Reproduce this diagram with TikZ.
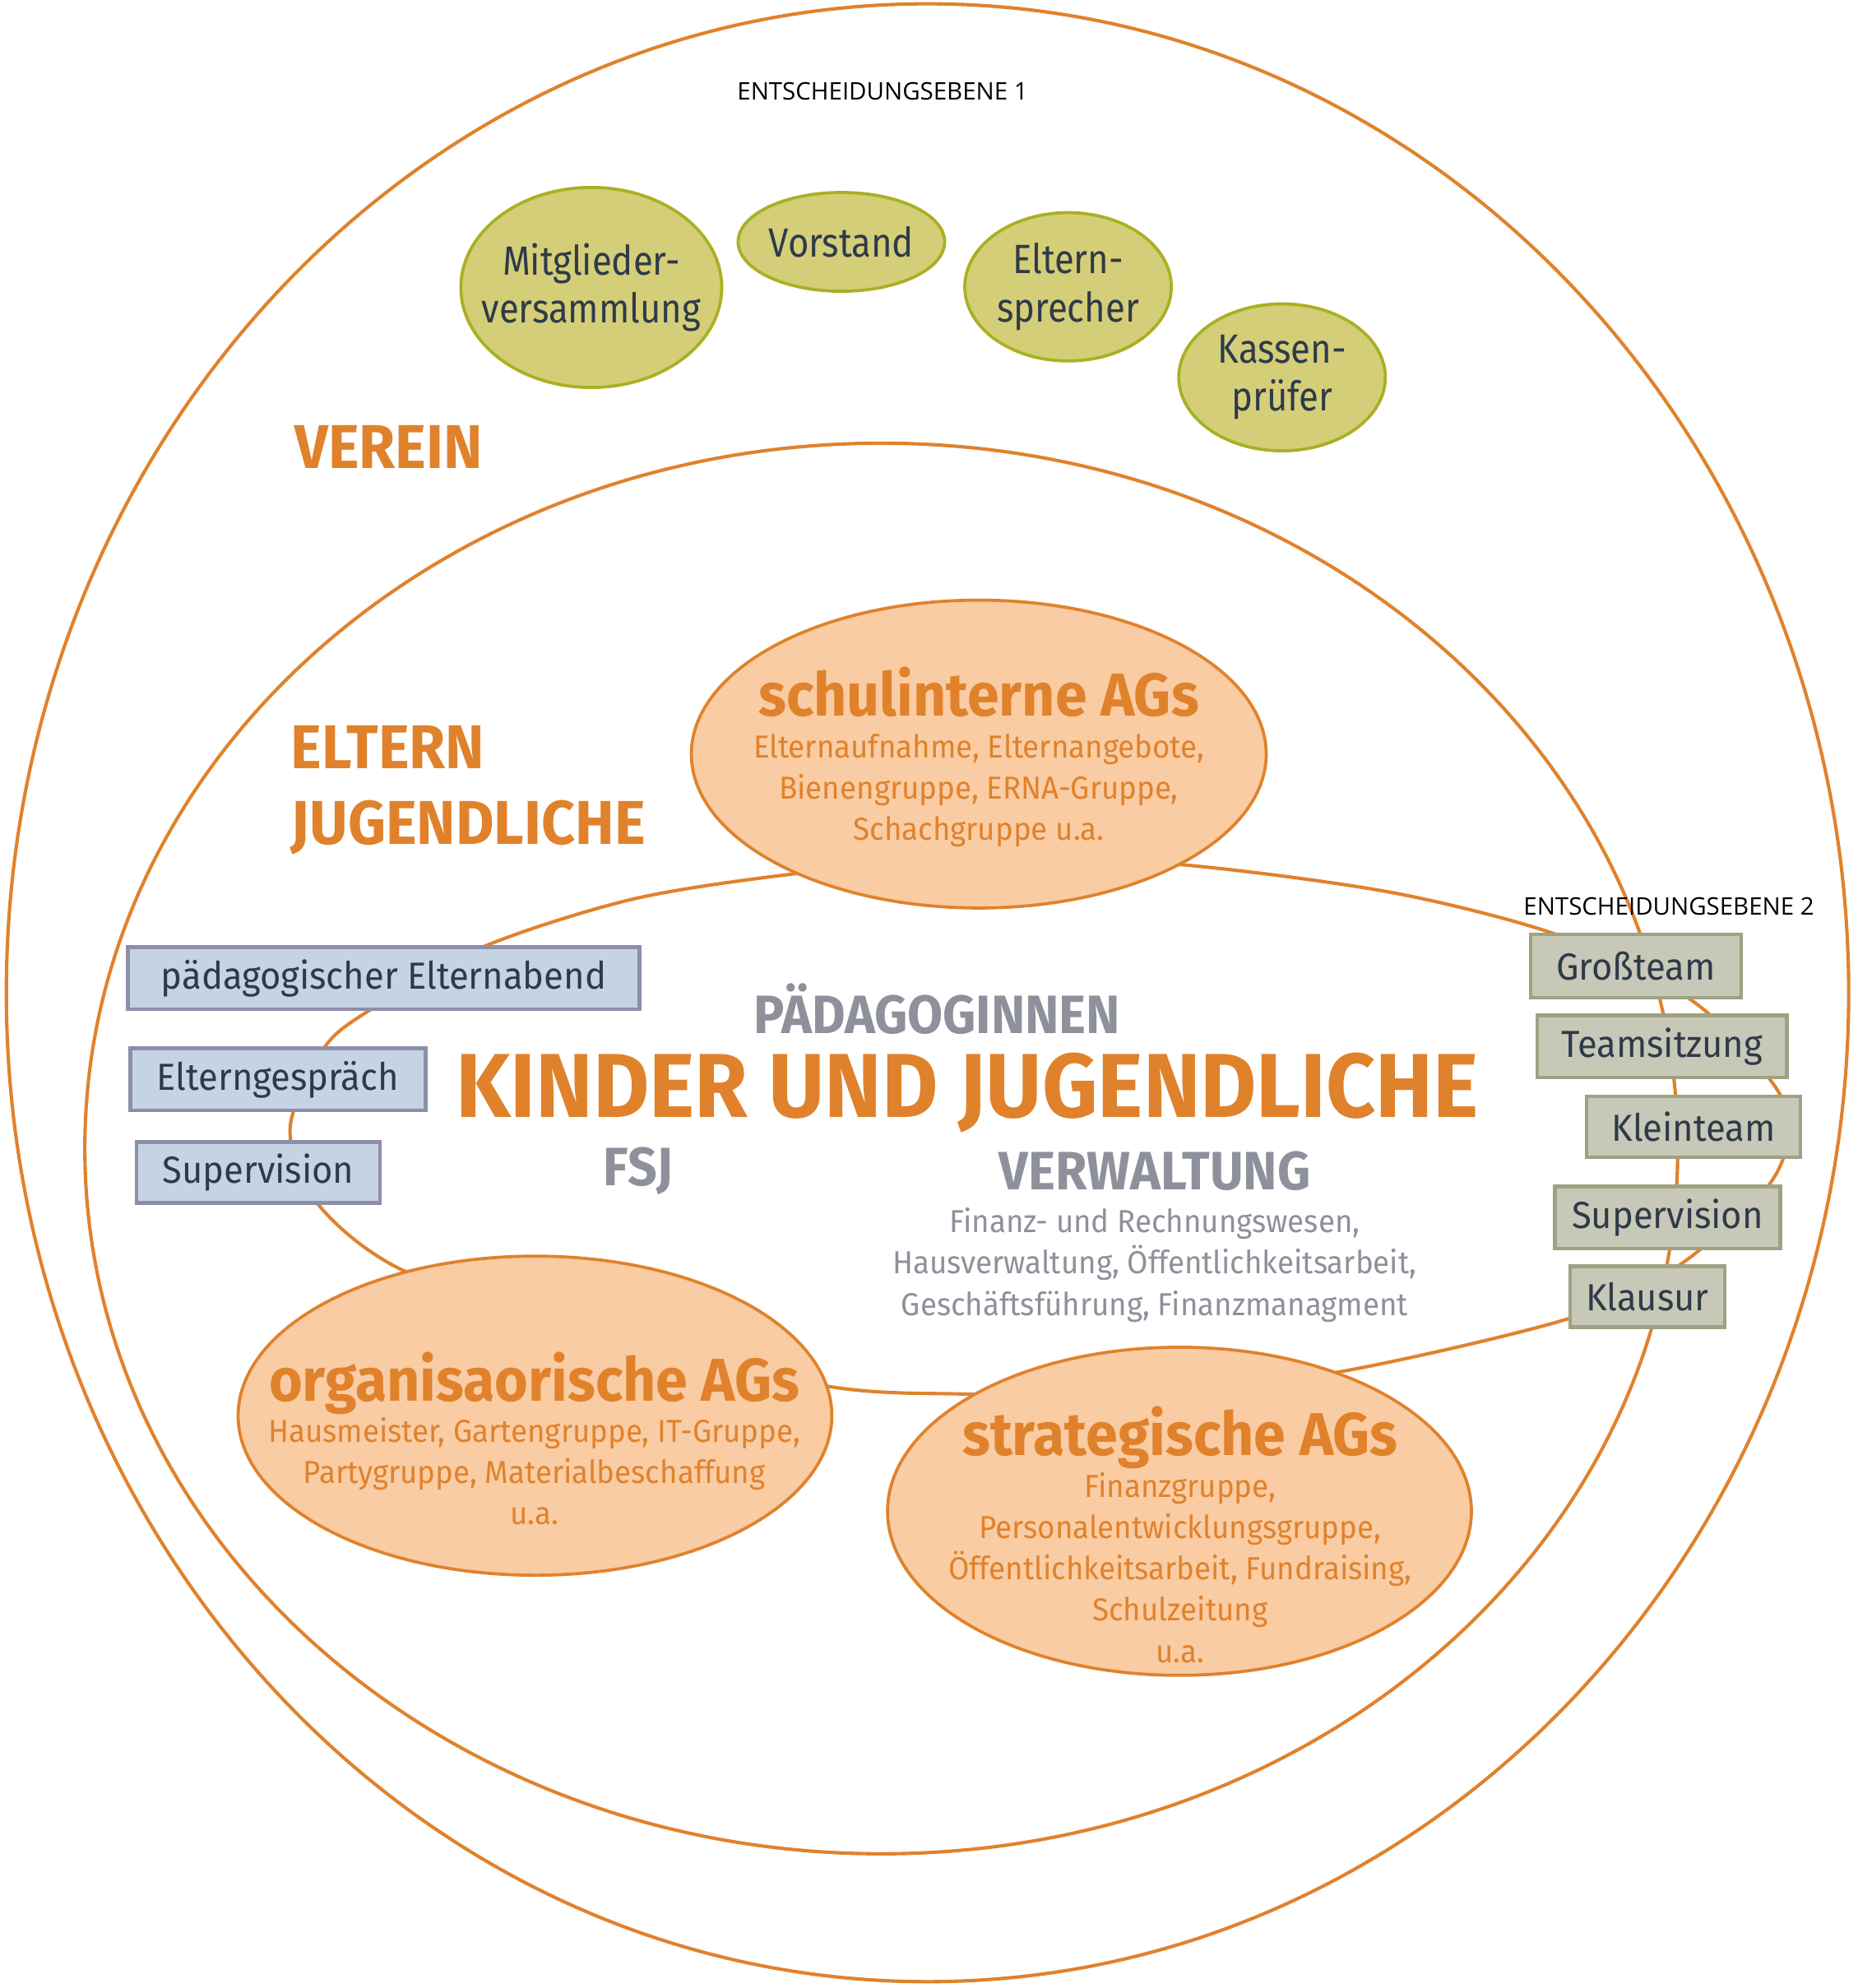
\documentclass[tikz,border=0pt]{standalone}
\usepackage{fontspec}
\setmainfont{Fira Sans}[FakeStretch=0.95]
\newfontfamily\narrowfont{Fira Sans}[FakeStretch=0.88]
\newfontfamily\entfont{Open Sans}
\usetikzlibrary{shapes.geometric}
\definecolor{orangeline}{HTML}{E0822C}
\definecolor{peach}{HTML}{F9CCA3}
\definecolor{olivefill}{HTML}{D4CE78}
\definecolor{olivedraw}{HTML}{A9B023}
\definecolor{bluefill}{HTML}{C4D4E3}
\definecolor{bluedraw}{HTML}{8E8DAA}
\definecolor{grayfill}{HTML}{C8C8B8}
\definecolor{graydraw}{HTML}{9EA282}
\definecolor{graytext}{HTML}{8E909B}
\definecolor{darktext}{HTML}{2F3A49}
\newcommand\agtitlefont{\fontsize{21.5}{23}\selectfont\bfseries}

\begin{document}
\begin{tikzpicture}[x=0.45pt,y=-0.45pt,
  ring/.style={draw=orangeline,line width=1.2pt},
  gremium/.style={ellipse,draw=olivedraw,fill=olivefill,line width=1.1pt,inner sep=-20pt,
    text=darktext,align=center,font=\narrowfont\fontsize{14.5}{17.1}\selectfont},
  agellipse/.style={ellipse,draw=orangeline,fill=peach,line width=1.1pt,inner sep=0pt},
  agtext/.style={text=orangeline,align=center,font=\fontsize{11.3}{14.7}\selectfont},
  elternbox/.style={rectangle,draw=bluedraw,fill=bluefill,line width=1.3pt,inner sep=0pt,
    text=darktext,font=\fontsize{13.4}{15}\selectfont},
  teambox/.style={rectangle,draw=graydraw,fill=grayfill,line width=1.3pt,inner sep=0pt,
    text=darktext,font=\fontsize{13.4}{15}\selectfont},
  ebene/.style={font=\entfont\fontsize{8.6}{10}\selectfont},
  bereich/.style={text=orangeline,anchor=west,font=\fontsize{22}{26}\selectfont\bfseries},
  personal/.style={text=graytext,font=\fontsize{19.2}{22}\selectfont\bfseries}]
\useasboundingbox (0,0) rectangle (1467,1570);

\draw[ring] (732.5,784) ellipse [x radius=727.5,y radius=781];
\draw[ring] (696,907) ellipse [x radius=629,y radius=557];
\draw[ring] plot[smooth cycle] coordinates {(628,690) (780,676) (935,683) (1100,705)
  (1232,739) (1336,790) (1399,854) (1413,892) (1396,937) (1325,1000) (1240,1041)
  (1060,1083) (900,1102) (765,1101) (655,1095) (480,1055) (322,1005) (252,952) (229,892)
  (255,829) (290,799) (381,748) (500,710)};

\node[ebene] (ebene1) at (697,72) {ENTSCHEIDUNGSEBENE 1};
\node[ebene] (ebene2) at (1318,716) {ENTSCHEIDUNGSEBENE 2};

\node[gremium,minimum width=92.7pt,minimum height=71.1pt] (mitglied) at (467,227) {Mitglieder-\\versammlung};
\node[gremium,minimum width=73.4pt,minimum height=35.1pt] (vorstand) at (664.5,191) {Vorstand};
\node[gremium,minimum width=73.4pt,minimum height=52.7pt] (elternspr) at (843.5,226.5) {Eltern-\\sprecher};
\node[gremium,minimum width=73.4pt,minimum height=52.2pt] (kassen) at (1012.5,298) {Kassen-\\prüfer};

\node[bereich] (verein) at (225,353) {VEREIN};
\node[bereich,align=left] (eltern) at (222,624) {ELTERN\\[1pt]JUGENDLICHE};

\node[agellipse,minimum width=204.3pt,minimum height=109.4pt] (schul) at (773,595.5) {};
\node[agtext] (schultext) at (773,598) {{\agtitlefont schulinterne AGs}\\Elternaufnahme, Elternangebote,\\Bienengruppe, ERNA-Gruppe,\\Schachgruppe u.a.};
\node[agellipse,minimum width=211pt,minimum height=113.4pt] (orga) at (422.5,1118) {};
\node[agtext] (orgatext) at (422,1136) {{\agtitlefont organisaorische AGs}\\Hausmeister, Gartengruppe, IT-Gruppe,\\Partygruppe, Materialbeschaffung\\u.a.};
\node[agellipse,minimum width=207.5pt,minimum height=116.6pt] (strat) at (931.5,1193.5) {};
\node[agtext] (strattext) at (932,1212) {{\agtitlefont strategische AGs}\\Finanzgruppe,\\Personalentwicklungsgruppe,\\Öffentlichkeitsarbeit, Fundraising,\\Schulzeitung\\u.a.};

\node[personal] (paed) at (740,797) {PÄDAGOGINNEN};
\node[text=orangeline,font=\fontsize{32.3}{36}\selectfont\bfseries] (kinder) at (764,863) {KINDER UND JUGENDLICHE};
\node[personal] (fsj) at (504,925) {FSJ};
\node[personal] (verw) at (912,925) {VERWALTUNG};
\node[text=graytext,align=center,font=\fontsize{11.3}{14.7}\selectfont] (verwtext) at (912,999) {Finanz- und Rechnungswesen,\\Hausverwaltung, Öffentlichkeitsarbeit,\\Geschäftsführung, Finanzmanagment};

\node[elternbox,minimum width=181.8pt,minimum height=22.1pt] (abend) at (303,772.5) {pädagogischer Elternabend};
\node[elternbox,minimum width=104.9pt,minimum height=22.1pt] (gespraech) at (219.5,852.5) {Elterngespräch};
\node[elternbox,minimum width=86.4pt,minimum height=21.6pt] (supl) at (204,926) {Supervision};

\node[teambox,minimum width=74.7pt,minimum height=22.5pt] (gross) at (1292,763) {Großteam};
\node[teambox,minimum width=88.7pt,minimum height=22.1pt] (sitzung) at (1312.5,826.5) {Teamsitzung};
\node[teambox,minimum width=76pt,minimum height=21.6pt] (klein) at (1337.5,890) {Kleinteam};
\node[teambox,minimum width=80.1pt,minimum height=22.1pt] (supr) at (1317,961.5) {Supervision};
\node[teambox,minimum width=54.9pt,minimum height=21.6pt] (klausur) at (1301,1024) {Klausur};
\end{tikzpicture}
\end{document}
